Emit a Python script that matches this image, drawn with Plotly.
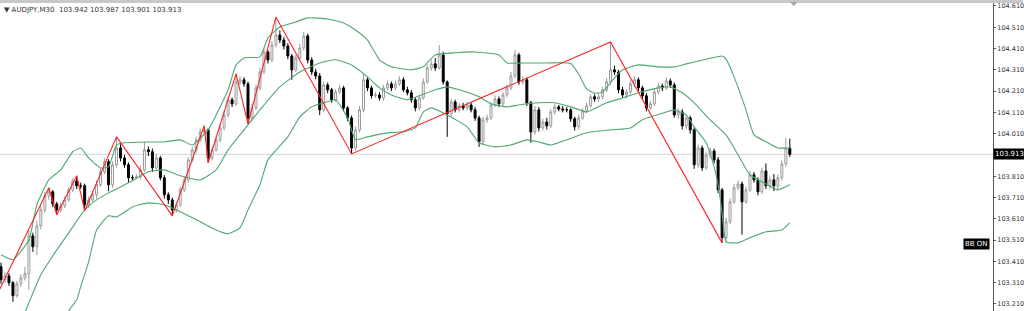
import plotly.graph_objects as go

# ---------------- data (AUDJPY M30) ----------------
FIRST_OPEN = 103.385
CLOSE = [103.324, 103.342, 103.310, 103.249, 103.305, 103.333, 103.352, 103.530, 103.479, 103.577,
 103.652, 103.718, 103.737, 103.680, 103.652, 103.671, 103.699, 103.746, 103.788, 103.765,
 103.765, 103.676, 103.699, 103.723, 103.770, 103.831, 103.878, 103.770, 103.864, 103.943,
 103.896, 103.864, 103.803, 103.803, 103.807, 103.840, 103.934, 103.925, 103.850, 103.896,
 103.803, 103.723, 103.699, 103.652, 103.676, 103.746, 103.793, 103.887, 103.934, 103.981,
 104.018, 104.028, 103.896, 103.934, 103.981, 104.037, 104.098, 104.169, 104.150, 104.253,
 104.263, 104.244, 104.084, 104.131, 104.225, 104.300, 104.394, 104.356, 104.427, 104.474,
 104.450, 104.422, 104.375, 104.310, 104.366, 104.413, 104.469, 104.356, 104.300, 104.281,
 104.122, 104.239, 104.216, 104.169, 104.206, 104.225, 104.131, 104.084, 103.943, 104.028,
 104.122, 104.263, 104.225, 104.188, 104.192, 104.178, 104.225, 104.244, 104.225, 104.244,
 104.263, 104.216, 104.202, 104.169, 104.131, 104.178, 104.253, 104.319, 104.338, 104.319,
 104.380, 104.253, 104.103, 104.159, 104.122, 104.141, 104.131, 104.145, 104.122, 104.084,
 103.972, 104.075, 104.084, 104.145, 104.173, 104.150, 104.192, 104.225, 104.281, 104.380,
 104.253, 104.263, 104.155, 104.018, 104.122, 104.037, 104.065, 104.047, 104.112, 104.136,
 104.126, 104.122, 104.122, 104.080, 104.042, 104.084, 104.117, 104.141, 104.183, 104.173,
 104.183, 104.216, 104.253, 104.310, 104.300, 104.216, 104.192, 104.206, 104.244, 104.263,
 104.225, 104.188, 104.131, 104.150, 104.206, 104.234, 104.225, 104.258, 104.239, 104.098,
 104.112, 104.047, 104.084, 104.028, 103.864, 103.943, 103.850, 103.910, 103.929, 103.887,
 103.746, 103.521, 103.596, 103.690, 103.756, 103.774, 103.690, 103.746, 103.817, 103.793,
 103.737, 103.835, 103.765, 103.793, 103.765, 103.803, 103.868, 103.942, 103.913]

HIGH = [103.405, 103.360, 103.355, 103.318, 103.318, 103.350, 103.385, 103.558, 103.545, 103.600,
 103.670, 103.735, 103.756, 103.745, 103.690, 103.685, 103.715, 103.760, 103.800, 103.812,
 103.780, 103.775, 103.715, 103.740, 103.790, 103.850, 103.895, 103.890, 103.880, 103.995,
 103.960, 103.910, 103.875, 103.815, 103.820, 103.860, 103.972, 103.950, 103.940, 103.915,
 103.905, 103.815, 103.735, 103.710, 103.690, 103.760, 103.810, 103.900, 103.950, 103.995,
 104.035, 104.047, 104.035, 103.950, 103.995, 104.050, 104.115, 104.185, 104.180, 104.291,
 104.280, 104.275, 104.255, 104.150, 104.240, 104.320, 104.410, 104.405, 104.445, 104.558,
 104.495, 104.465, 104.435, 104.385, 104.380, 104.430, 104.488, 104.480, 104.370, 104.315,
 104.295, 104.255, 104.250, 104.225, 104.220, 104.240, 104.235, 104.140, 104.095, 104.045,
 104.140, 104.295, 104.275, 104.235, 104.205, 104.205, 104.240, 104.260, 104.255, 104.260,
 104.280, 104.275, 104.230, 104.215, 104.180, 104.190, 104.270, 104.335, 104.355, 104.365,
 104.427, 104.395, 104.260, 104.175, 104.170, 104.155, 104.155, 104.160, 104.155, 104.135,
 104.095, 104.090, 104.100, 104.160, 104.190, 104.185, 104.205, 104.240, 104.300, 104.404,
 104.390, 104.280, 104.275, 104.165, 104.140, 104.135, 104.080, 104.085, 104.125, 104.150,
 104.145, 104.140, 104.135, 104.130, 104.090, 104.100, 104.130, 104.155, 104.195, 104.195,
 104.200, 104.230, 104.270, 104.441, 104.330, 104.310, 104.230, 104.220, 104.260, 104.280,
 104.275, 104.235, 104.200, 104.165, 104.220, 104.250, 104.245, 104.275, 104.270, 104.250,
 104.130, 104.125, 104.100, 104.095, 104.040, 103.960, 103.955, 103.925, 103.945, 103.940,
 103.900, 103.755, 103.615, 103.705, 103.775, 103.790, 103.785, 103.760, 103.835, 103.830,
 103.805, 103.850, 103.870, 103.810, 103.820, 103.820, 103.885, 103.991, 103.987]

LOW = [103.305, 103.310, 103.295, 103.220, 103.240, 103.290, 103.320, 103.277, 103.455, 103.440,
 103.560, 103.640, 103.700, 103.665, 103.629, 103.640, 103.660, 103.690, 103.735, 103.750,
 103.750, 103.648, 103.660, 103.690, 103.705, 103.760, 103.820, 103.740, 103.755, 103.850,
 103.880, 103.850, 103.780, 103.790, 103.795, 103.795, 103.830, 103.905, 103.830, 103.840,
 103.790, 103.705, 103.680, 103.624, 103.640, 103.665, 103.735, 103.780, 103.875, 103.920,
 103.970, 104.005, 103.873, 103.885, 103.925, 103.970, 104.025, 104.085, 104.135, 104.140,
 104.240, 104.230, 104.056, 104.070, 104.120, 104.215, 104.290, 104.340, 104.345, 104.415,
 104.435, 104.405, 104.360, 104.263, 104.300, 104.355, 104.400, 104.340, 104.285, 104.265,
 104.098, 104.110, 104.200, 104.155, 104.160, 104.195, 104.115, 104.070, 103.915, 103.930,
 104.015, 104.110, 104.210, 104.175, 104.178, 104.165, 104.165, 104.215, 104.210, 104.215,
 104.235, 104.205, 104.190, 104.155, 104.115, 104.120, 104.170, 104.245, 104.305, 104.305,
 104.310, 104.240, 103.995, 104.090, 104.110, 104.110, 104.120, 104.120, 104.110, 104.070,
 103.948, 103.960, 104.060, 104.075, 104.135, 104.135, 104.140, 104.180, 104.215, 104.270,
 104.240, 104.240, 104.140, 103.967, 104.005, 104.020, 104.025, 104.030, 104.035, 104.100,
 104.115, 104.110, 104.110, 104.065, 104.025, 104.030, 104.075, 104.105, 104.130, 104.160,
 104.160, 104.170, 104.205, 104.240, 104.285, 104.200, 104.180, 104.175, 104.195, 104.230,
 104.210, 104.170, 104.115, 104.120, 104.140, 104.195, 104.210, 104.215, 104.225, 104.085,
 104.080, 104.030, 104.030, 104.010, 103.845, 103.850, 103.835, 103.840, 103.895, 103.870,
 103.730, 103.497, 103.505, 103.585, 103.680, 103.745, 103.535, 103.680, 103.735, 103.780,
 103.720, 103.725, 103.750, 103.750, 103.740, 103.750, 103.790, 103.855, 103.901]

# Bollinger bands (bar index, price)
UB_IDX = [0, 3, 7, 9, 12, 15, 18, 20, 22, 25, 27, 29, 31, 37, 41, 45, 48, 52, 57, 59,
          61, 65, 67, 70, 74, 77, 82, 86, 89, 92, 95, 98, 103, 106, 109, 114, 119, 125, 127, 131,
          137, 143, 145, 147, 149, 151, 153, 156, 160, 165, 169, 172, 177, 181, 182, 184, 187, 189, 192, 195, 198]
UB_VAL = [103.441, 103.418, 103.511, 103.676, 103.793, 103.840, 103.925, 103.943, 103.896, 103.849,
          103.854, 103.957, 103.967, 103.971, 103.971, 103.981, 103.957, 104.028, 104.216, 104.333,
          104.366, 104.371, 104.460, 104.511, 104.535, 104.554, 104.549, 104.530, 104.497, 104.450,
          104.357, 104.324, 104.310, 104.324, 104.380, 104.390, 104.394, 104.380, 104.342, 104.342,
          104.342, 104.340, 104.290, 104.220, 104.200, 104.205, 104.250, 104.310, 104.333, 104.324, 104.324,
          104.338, 104.360, 104.375, 104.360, 104.277, 104.122, 104.004, 103.972, 103.943, 103.943]

MB_IDX = [4, 6, 10, 14, 17, 21, 24, 27, 32, 37, 41, 45, 50, 54, 57, 61, 65, 70, 75, 80,
          84, 88, 92, 95, 98, 102, 105, 109, 112, 115, 120, 123, 127, 130, 135, 139, 143, 147, 149, 152,
          156, 160, 165, 168, 171, 174, 178, 182, 185, 188, 192, 195, 198]
MB_VAL = [103.080, 103.170, 103.347, 103.464, 103.544, 103.652, 103.699, 103.732, 103.779, 103.831,
          103.840, 103.812, 103.793, 103.840, 103.934, 104.028, 104.122, 104.230, 104.300, 104.342,
          104.357, 104.333, 104.277, 104.225, 104.192, 104.169, 104.188, 104.216, 104.230, 104.216,
          104.183, 104.150, 104.136, 104.145, 104.155, 104.155, 104.136, 104.112, 104.128, 104.155,
          104.178, 104.202, 104.225, 104.230, 104.202, 104.155, 104.075, 104.004, 103.911, 103.817,
          103.774, 103.746, 103.770]

LB_IDX = [15, 17, 19, 20, 22, 24, 27, 29, 33, 37, 41, 45, 50, 54, 57, 60, 62, 65, 67, 72,
          75, 78, 81, 84, 87, 89, 92, 97, 101, 104, 106, 108, 112, 117, 120, 124, 128, 132, 135, 138,
          142, 147, 153, 158, 161, 167, 169, 172, 174, 177, 179, 180, 181, 182, 185, 188, 192, 196, 198]
LB_VAL = [103.089, 103.178, 103.230, 103.291, 103.408, 103.558, 103.624, 103.619, 103.666, 103.685,
          103.676, 103.643, 103.596, 103.558, 103.540, 103.568, 103.652, 103.770, 103.887, 103.995,
          104.089, 104.136, 104.155, 104.169, 104.084, 103.981, 103.995, 104.014, 104.019, 104.037,
          104.112, 104.131, 104.098, 104.042, 103.967, 103.948, 103.957, 103.981, 103.971, 103.957,
          103.981, 104.014, 104.028, 104.037, 104.075, 104.112, 104.122, 104.098, 104.042, 103.967,
          103.854, 103.770, 103.638, 103.502, 103.497, 103.521, 103.549, 103.558, 103.591]

# ZigZag pivots (bar index, price)
ZZ_IDX = [-4, 12, 14, 19, 21, 29, 43, 51, 52, 59, 62, 69, 88, 153, 181]
ZZ_VAL = [103.136, 103.756, 103.629, 103.812, 103.648, 103.995, 103.624, 104.047, 103.873,
          104.291, 104.056, 104.558, 103.915, 104.441, 103.497]

TICK_VALS = [104.61, 104.51, 104.41, 104.31, 104.21, 104.11, 104.01, 103.81, 103.71,
             103.61, 103.51, 103.41, 103.31, 103.21]
TICK_TEXT = ["104.610", "104.510", "104.410", "104.310", "104.210", "104.110", "104.010",
             "103.810", "103.710", "103.610", "103.510", "103.410", "103.310", "103.210"]
SYMBOL = "AUDJPY,M30"
LAST_OHLC = ["103.942", "103.987", "103.901", "103.913"]
LAST_PRICE = 103.913

# ---------------- figure ----------------
OPEN = [FIRST_OPEN] + CLOSE[:-1]
BARS = list(range(len(CLOSE)))

W, H_PX = 1024, 311
PLOT_W = 997
Y_MAX, Y_MIN = 104.638, 103.177

fig = go.Figure()
fig.add_trace(go.Candlestick(
    x=BARS, open=OPEN, high=HIGH, low=LOW, close=CLOSE,
    increasing=dict(fillcolor="white", line=dict(color="#9a9a9a", width=1)),
    decreasing=dict(fillcolor="black", line=dict(color="black", width=1)),
    whiskerwidth=0, showlegend=False, hoverinfo="skip"))

band_col = "#4fa873"
for bx, by in ((UB_IDX, UB_VAL), (MB_IDX, MB_VAL), (LB_IDX, LB_VAL)):
    fig.add_trace(go.Scatter(x=bx, y=by, mode="lines", showlegend=False, hoverinfo="skip",
                             line=dict(color=band_col, width=1.1, shape="spline", smoothing=0.45)))

fig.add_trace(go.Scatter(x=ZZ_IDX, y=ZZ_VAL, mode="lines", showlegend=False, hoverinfo="skip",
                         line=dict(color="#ff2020", width=1.1)))

shapes = [
    dict(type="line", xref="paper", yref="y", x0=0, x1=1, y0=LAST_PRICE, y1=LAST_PRICE,
         line=dict(color="#d4d4d4", width=1), layer="below"),
    dict(type="rect", xref="paper", yref="paper", x0=0, x1=1.03, y0=1 - 3 / H_PX, y1=1,
         fillcolor="#c8c8c8", line=dict(width=0)),
    # chart-shift marker
    dict(type="path", xref="paper", yref="paper",
         path="M {a},{t} L {b},{t} L {c},{m} Z".format(a=793 / PLOT_W, b=801 / PLOT_W,
                                                      c=797 / PLOT_W, t=1 - 2 / H_PX, m=1 - 6 / H_PX),
         fillcolor="#a8a8a8", line=dict(width=0)),
]

annotations = [
    dict(xref="paper", yref="paper", x=0.002, y=1 - 4 / H_PX, xanchor="left", yanchor="top",
         text="▼ " + SYMBOL + "  " + " ".join(LAST_OHLC), showarrow=False,
         font=dict(family="DejaVu Sans", size=7, color="#333333")),
    dict(xref="paper", yref="y", x=1.0, y=LAST_PRICE, xanchor="left", yanchor="middle",
         text=LAST_OHLC[3], showarrow=False, bgcolor="black", borderpad=1,
         font=dict(family="DejaVu Sans", size=7, color="white")),
    dict(xref="paper", yref="y", x=0.9965, y=103.494, xanchor="right", yanchor="middle",
         text="BB ON", showarrow=False, bgcolor="black", borderpad=1,
         font=dict(family="DejaVu Sans", size=7, color="white")),
]

fig.update_layout(
    width=W, height=H_PX, margin=dict(l=0, r=W - PLOT_W, t=0, b=0),
    paper_bgcolor="white", plot_bgcolor="white",
    shapes=shapes, annotations=annotations,
    xaxis=dict(range=[-0.25, (PLOT_W - 1) / 4], visible=False, rangeslider=dict(visible=False),
               fixedrange=True),
    yaxis=dict(range=[Y_MIN, Y_MAX], side="right", showgrid=False, zeroline=False,
               tickvals=TICK_VALS, ticktext=TICK_TEXT, ticks="outside", ticklen=2,
               tickcolor="#555555", showline=True, linecolor="#555555", linewidth=1,
               tickfont=dict(family="DejaVu Sans", size=6.5, color="#333333"), fixedrange=True),
)

fig.write_html("out.html")
